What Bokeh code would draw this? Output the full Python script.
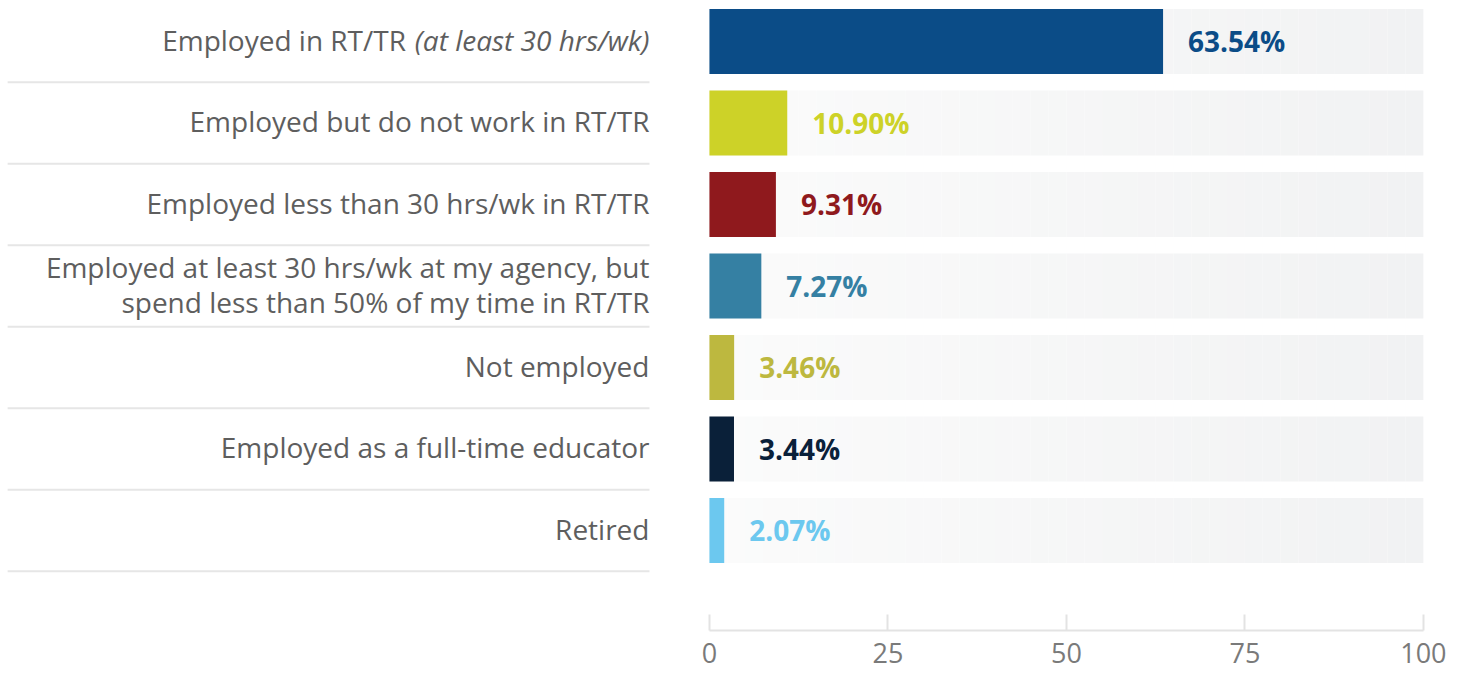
from bokeh.plotting import figure
from bokeh.models import Range1d, FixedTicker, ColumnDataSource
from bokeh.core.properties import value
from bokeh.embed import file_html
from bokeh.resources import INLINE

categories = [
    "Employed in RT/TR",
    "Employed but do not work in RT/TR",
    "Employed less than 30 hrs/wk in RT/TR",
    "Employed at least 30 hrs/wk at my agency, but\nspend less than 50% of my time in RT/TR",
    "Not employed",
    "Employed as a full-time educator",
    "Retired",
]
italic_suffix = ["(at least 30 hrs/wk)", "", "", "", "", "", ""]
values = [63.54, 10.90, 9.31, 7.27, 3.46, 3.44, 2.07]
colors = ["#0b4c87", "#cdd228", "#8f191d", "#3580a3", "#bdb83f", "#0a2039", "#6cc8ef"]
ticks = [0, 25, 50, 75, 100]

rows = list(range(len(categories)))
FONT = "Open Sans"

p = figure(width=1450, height=673, output_backend="svg", toolbar_location=None,
           x_range=Range1d(-99.3, 103.8), y_range=Range1d(7.227, -0.503),
           min_border=0, min_border_left=0, min_border_right=0, min_border_top=0,
           min_border_bottom=43, outline_line_color=None)
p.yaxis.visible = False
p.grid.visible = False
p.background_fill_color = "white"
p.border_fill_color = "white"

# gradient background tracks
nseg = 40
c0 = (0xfb, 0xfb, 0xfb)
c1 = (0xf1, 0xf2, 0xf3)
for k in range(nseg):
    t = k / (nseg - 1)
    col = "#%02x%02x%02x" % tuple(int(round(a + (b - a) * t)) for a, b in zip(c0, c1))
    left = 100 * k / nseg
    right = 100 * (k + 1) / nseg
    p.hbar(y=rows, left=left, right=right, height=0.8, color=col, line_color=None)

src = ColumnDataSource(dict(y=rows, v=values, c=colors,
                            lab=[f"{v:.2f}%" for v in values],
                            lx=[v + 3.5 for v in values],
                            cat=categories))
p.hbar(y="y", left=0, right="v", height=0.8, fill_color="c", line_color=None, source=src)
p.text(x="lx", y="y", text="lab", text_color="c", text_font=value(FONT),
       text_font_style="bold", text_font_size="28px", text_baseline="middle",
       text_align="left", source=src)

# category labels
main_x = []
for i in rows:
    main_x.append(-42.5 if italic_suffix[i] else -8.4)
p.text(x=main_x, y=[r - 0.02 for r in rows], text=categories, text_font=value(FONT),
       text_font_size="28px", text_color="#5e5e5e", text_align="right",
       text_baseline="middle", text_line_height=0.92)
ix = [i for i in rows if italic_suffix[i]]
p.text(x=[-8.4] * len(ix), y=[r - 0.02 for r in ix], text=[italic_suffix[i] for i in ix],
       text_font=value(FONT), text_font_style="italic", text_font_size="28px",
       text_color="#5e5e5e", text_align="right", text_baseline="middle")

# separators
p.segment(x0=-98.3, x1=-8.4, y0=[r + 0.5 for r in rows], y1=[r + 0.5 for r in rows],
          line_color="#e6e6e6", line_width=2)

ax = p.xaxis[0]
ax.bounds = (0, 100)
ax.ticker = FixedTicker(ticks=ticks)
ax.minor_tick_line_color = None
ax.major_tick_in = 16
ax.major_tick_out = 0
ax.axis_line_color = "#e3e3e3"
ax.axis_line_width = 2
ax.major_tick_line_color = "#e3e3e3"
ax.major_tick_line_width = 2
ax.major_label_text_font = FONT
ax.major_label_text_font_size = "27px"
ax.major_label_text_color = "#7a7a7a"
ax.major_label_standoff = 12

open("out.html", "w").write(file_html(p, INLINE))
